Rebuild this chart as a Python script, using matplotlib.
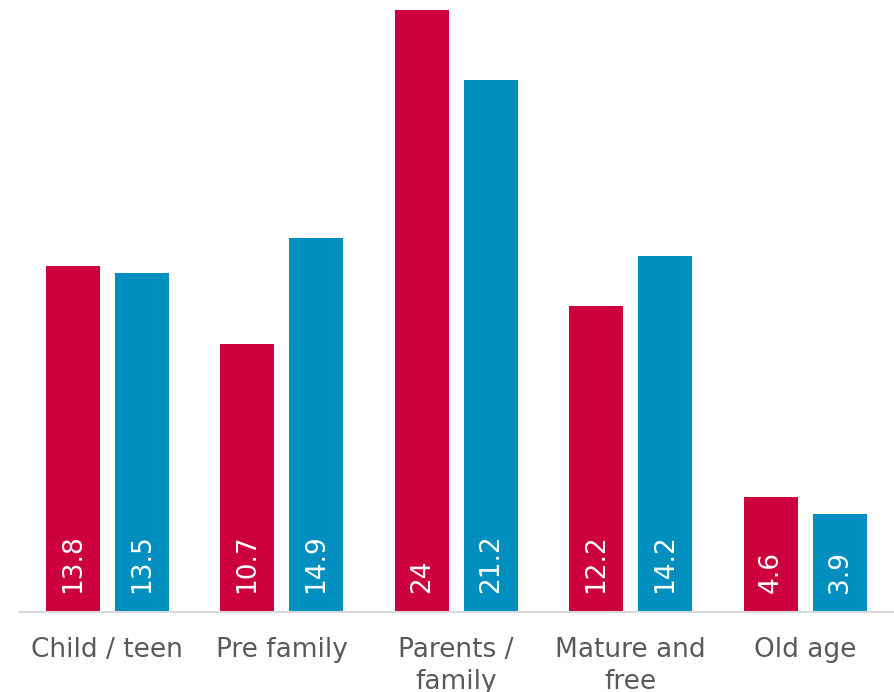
import matplotlib
matplotlib.use('Agg')
import matplotlib.pyplot as plt
import numpy as np

plt.rcParams['font.family'] = ['DejaVu Sans']

# --- дані ---
categories = ['Child / teen', 'Pre family', 'Parents /\nfamily', 'Mature and\nfree', 'Old age']
series_red = [13.8, 10.7, 24.0, 12.2, 4.6]
series_blue = [13.5, 14.9, 21.2, 14.2, 3.9]

RED = '#CC003D'
BLUE = '#008FBF'
GREY = '#595959'

fig = plt.figure(figsize=(8.94, 6.92), dpi=100)
ax = fig.add_axes([20 / 894, 80 / 692, 872.5 / 894, 602 / 692])

x = np.arange(len(categories))
w = 0.309
off = 0.198
bars_r = ax.bar(x - off, series_red, width=w, color=RED)
bars_b = ax.bar(x + off, series_blue, width=w, color=BLUE)

# підписи значень всередині стовпців, повернуті вертикально
for bars, vals in ((bars_r, series_red), (bars_b, series_blue)):
    for b, v in zip(bars, vals):
        ax.annotate(f'{v:g}', (b.get_x() + b.get_width() / 2, 0),
                    xytext=(0, 14), textcoords='offset points',
                    rotation=90, ha='center', va='bottom',
                    color='white', fontsize=19)

ax.set_xlim(-0.5, 4.5)
ax.set_ylim(0, 24)
ax.set_yticks([])
ax.set_xticks(x)
ax.set_xticklabels(categories, color=GREY, fontsize=19, linespacing=1.3)
ax.tick_params(axis='x', length=0, pad=18)
for s in ['top', 'left', 'right']:
    ax.spines[s].set_visible(False)
ax.spines['bottom'].set_color('#D9D9D9')
ax.spines['bottom'].set_linewidth(1.5)

fig.savefig('out.png', dpi=100)
